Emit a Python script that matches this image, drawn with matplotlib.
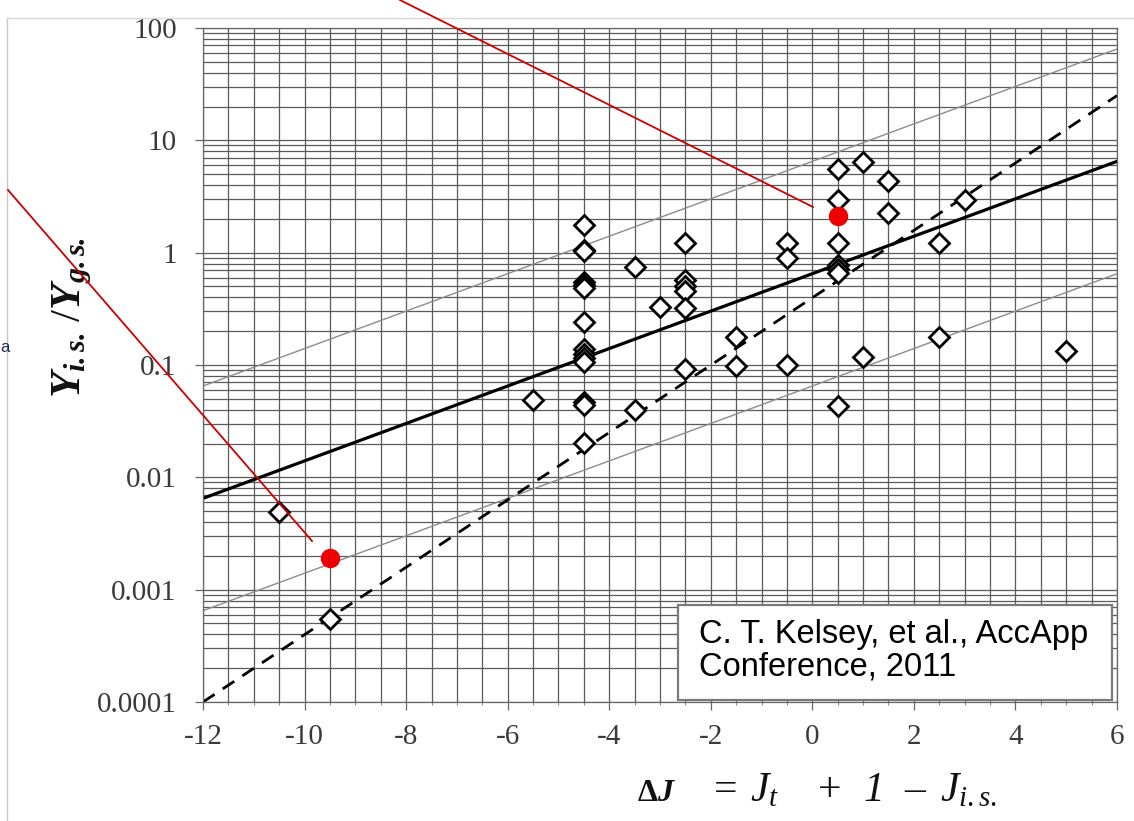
import numpy as np
import matplotlib.pyplot as plt
from matplotlib.ticker import MultipleLocator, LogLocator, NullFormatter
from matplotlib.patches import Rectangle
from matplotlib.lines import Line2D

############ DATA ########################

# measured points (delta J, yield ratio)
dj = [-10.5, -9.5, -5.5,
      -4.5, -4.5, -4.5, -4.5, -4.5, -4.5, -4.5, -4.5, -4.5, -4.5, -4.5, -4.5, -4.5, -4.5,
      -3.5, -3.5, -3.0,
      -2.5, -2.5, -2.5, -2.5, -2.5, -2.5,
      -1.5, -1.5, -0.5, -0.5, -0.5,
      0.5, 0.5, 0.5, 0.5, 0.5, 0.5, 0.5,
      1.0, 1.0, 1.5, 1.5, 2.5, 2.5, 3.0, 5.0]
ratio = [0.0049, 0.00055, 0.049,
         1.77, 1.06, 1.03, 0.55, 0.52, 0.48, 0.243, 0.14, 0.125, 0.115, 0.106, 0.047, 0.044, 0.0203,
         0.75, 0.040, 0.33,
         1.23, 0.57, 0.51, 0.46, 0.32, 0.093,
         0.178, 0.098, 1.23, 0.90, 0.10,
         5.6, 2.96, 1.23, 0.78, 0.72, 0.66, 0.043,
         6.46, 0.118, 4.38, 2.27, 1.23, 0.178, 2.96, 0.134]

# highlighted points
red_dj = [-9.5, 0.5]
red_ratio = [0.0019, 2.1]

# fit line and its factor-of-ten band, plus the dashed systematics line
line_x = [-12, 6]
fit_y = [0.0065, 6.5]
upper_y = [0.065, 65]
lower_y = [0.00065, 0.65]
dash_y = [0.0001, 25]

xticks = [-12, -10, -8, -6, -4, -2, 0, 2, 4, 6]
yticks = [0.0001, 0.001, 0.01, 0.1, 1, 10, 100]
ytick_labels = ['0.0001', '0.001', '0.01', '0.1', '1', '10', '100']

############ STYLE ########################

plt.rcParams['font.family'] = ['Liberation Serif', 'DejaVu Serif']
plt.rcParams['mathtext.fontset'] = 'custom'
plt.rcParams['mathtext.rm'] = 'Liberation Serif'
plt.rcParams['mathtext.it'] = 'Liberation Serif:italic'
plt.rcParams['mathtext.bf'] = 'Liberation Serif:bold:italic'
plt.rcParams['mathtext.sf'] = 'Liberation Serif:bold'

W, H = 1134, 821
fig = plt.figure(figsize=(W / 100, H / 100), dpi=100)
ax = fig.add_axes([203 / W, 1 - 702 / H, (1117 - 203) / W, (702 - 28) / H])

############ PLOT ########################

ax.plot(line_x, upper_y, color='#8c8c8c', lw=1.0, zorder=2)
ax.plot(line_x, lower_y, color='#8c8c8c', lw=1.0, zorder=2)
ax.plot(line_x, dash_y, color='black', lw=2.0, ls=(0, (5, 3.5)), zorder=2)
ax.plot(line_x, fit_y, color='black', lw=2.3, zorder=2)

ax.plot(dj, ratio, 'D', ms=10, mfc='white', mec='black', mew=2.0, ls='none', zorder=3)
ax.plot(red_dj, red_ratio, 'o', ms=13, color='#ee0000', zorder=4)

ax.set_yscale('log')
ax.set_xlim(-12, 6)
ax.set_ylim(0.0001, 100)
ax.set_xticks(xticks)
ax.set_xticklabels([str(t) for t in xticks])
ax.xaxis.set_minor_locator(MultipleLocator(0.5))
ax.set_yticks(yticks)
ax.set_yticklabels(ytick_labels)
ax.yaxis.set_minor_locator(LogLocator(base=10, subs=np.arange(2, 10)))
ax.yaxis.set_minor_formatter(NullFormatter())

ax.grid(which='both', color='#5a5a5a', lw=0.9)
ax.set_axisbelow(True)
ax.tick_params(which='major', length=6, width=0.9, color='#666666', labelsize=21,
               labelcolor='#3a3a3a', pad=10)
ax.tick_params(axis='y', which='major', pad=13)
ax.tick_params(which='minor', length=2.5, width=0.8, color='#888888')
ax.tick_params(axis='y', which='minor', length=0)
for s in ax.spines.values():
    s.set_color('#666666')
    s.set_linewidth(0.9)

# axis titles
fig.text(72 / W, 1 - 318 / H, r'$\mathbf{Y}_{\mathbf{i.s.}}\,/\mathbf{Y}_{\mathbf{g.s.}}$',
         rotation=90, ha='center', va='center', fontsize=31, color='#111111')
base = 1 - 801 / H
fig.text(637 / W, base, r'$\mathsf{\Delta}\mathbf{J}$',
         ha='left', va='baseline', fontsize=23, color='#111111')
fig.text(714 / W, base, '=', ha='left', va='baseline', fontsize=30, color='#111111')
fig.text(750 / W, base, r'$J_t$', ha='left', va='baseline', fontsize=30, color='#111111')
fig.text(818 / W, base, '+', ha='left', va='baseline', fontsize=30, color='#111111')
fig.text(864 / W, base, '1', ha='left', va='baseline', fontsize=30, style='italic',
         color='#111111')
fig.text(904 / W, base, '\u2013', ha='left', va='baseline', fontsize=30, color='#111111')
fig.text(940 / W, base, r'$J_{i.s.}$', ha='left', va='baseline', fontsize=30, color='#111111')

# citation box
fig.patches.append(Rectangle((678 / W, 1 - 700 / H), (1112 - 678) / W, (700 - 605) / H,
                             transform=fig.transFigure, facecolor='white',
                             edgecolor='#7a7a7a', lw=1.6, zorder=5))
fig.text(699 / W, 1 - 651 / H, 'C. T. Kelsey, et al., AccApp\nConference, 2011',
         family='Liberation Sans', fontsize=23.5, linespacing=1.08,
         ha='left', va='center', color='black', zorder=6)

# red pointer lines from the slide
fig.lines.append(Line2D([400 / W, 813 / W], [1.0, 1 - 207 / H], transform=fig.transFigure,
                        color='#cc0000', lw=1.3, zorder=7))
fig.lines.append(Line2D([8 / W, 312 / W], [1 - 190 / H, 1 - 541 / H], transform=fig.transFigure,
                        color='#cc0000', lw=1.3, zorder=7))

# slide frame remnants
fig.lines.append(Line2D([7 / W, 7 / W], [0, 1 - 18 / H], transform=fig.transFigure,
                        color='#c8c8c8', lw=1.0))
fig.lines.append(Line2D([7 / W, 1], [1 - 18 / H, 1 - 18 / H], transform=fig.transFigure,
                        color='#d8d8d8', lw=1.0))
fig.text(0.5 / W, 1 - 347 / H, 'a', family='Liberation Sans', fontsize=12,
         color='#1c2c4c', ha='left', va='center')

fig.savefig('out.png', dpi=100)
